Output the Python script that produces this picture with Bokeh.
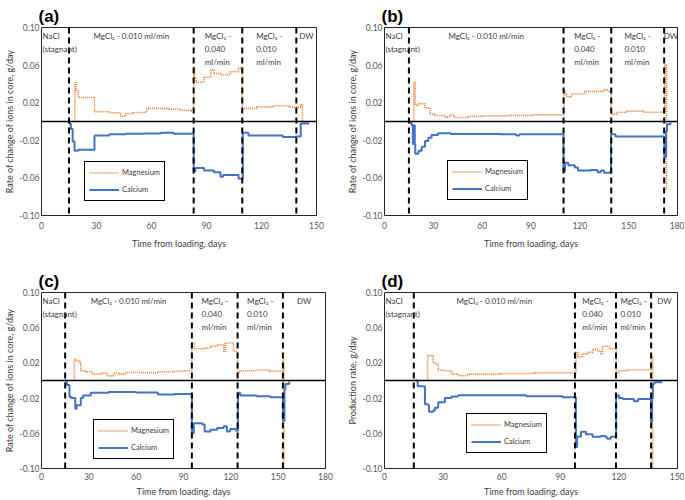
from bokeh.plotting import figure
from bokeh.models import Span, FixedTicker, PrintfTickFormatter, Range1d, ColumnDataSource, LabelSet
from bokeh.layouts import column, row
from bokeh.embed import file_html
from bokeh.resources import INLINE
from bokeh.core.properties import value

# ---------------- data ----------------
y_ticks = [-0.10, -0.06, -0.02, 0.02, 0.06, 0.10]
x_ticks_150 = [0, 30, 60, 90, 120, 150]
x_ticks_180 = [0, 30, 60, 90, 120, 150, 180]
phase_names = ["NaCl\n(stagnant)", "MgCl\u2082 - 0.010 ml/min", "MgCl\u2082 -\n0.040\nml/min",
               "MgCl\u2082 -\n0.010\nml/min", "DW"]

# panel (a)
a_bounds = [15, 83, 109.5, 139]
a_mg_day = [18.2, 18.2, 19, 20, 28.9, 37, 43.2, 45.9, 50, 56.6, 57.5, 69.1, 76, 81.6, 83, 83.5,
            84.3, 88.7, 92.3, 94, 97.6, 103, 107.5, 109.6, 117.3, 126.2, 135.1, 141.4, 142.3]
a_mg = [0, 0.0415, 0.033, 0.0256, 0.0104, 0.0093, 0.0055, 0.0085, 0.0095, 0.0104, 0.014, 0.013,
        0.012, 0.011, 0.058, 0.046, 0.042, 0.047, 0.055, 0.051, 0.0497, 0.053, 0.0568, 0.014,
        0.0156, 0.0167, 0.0153, 0.018, 0]
a_ca_day = [15, 16, 17, 18, 20, 28.9, 37, 46, 56, 65, 72, 83, 84, 88.7, 94, 97.6, 99, 103, 107.5,
            109.8, 112.9, 131.6, 138.7, 141.4, 146]
a_ca = [-0.002, -0.008, -0.0213, -0.031, -0.030, -0.015, -0.0136, -0.013, -0.0127, -0.012, -0.013,
        -0.053, -0.0496, -0.052, -0.054, -0.0589, -0.057, -0.057, -0.061, -0.012, -0.0148, -0.0166,
        -0.016, -0.002, -0.002]

# panel (b)
b_bounds = [15, 110, 139.3, 171.8]
b_mg_day = [18, 18, 18.9, 20.9, 24.9, 27.9, 30.9, 36.9, 39.9, 42.9, 51, 60.9, 76.9, 90.9, 110.3,
            111, 111.9, 114.9, 122.9, 130.9, 134.9, 137, 139.3, 142.9, 148.9, 158.9, 170.9, 172.2,
            173.2, 173.5]
b_mg = [0, 0.0416, 0.0174, 0.019, 0.0143, 0.0078, 0.0064, 0.0047, 0.0065, 0.0043, 0.0054, 0.006,
        0.0065, 0.0071, 0.034, 0.029, 0.026, 0.0295, 0.032, 0.032, 0.034, 0.032, 0.0078, 0.0098,
        0.011, 0.0098, 0.0105, 0.06, -0.072, -0.072]
b_ca_day = [15, 16.6, 17.4, 17.8, 18.6, 18.9, 20.9, 22.9, 24.9, 26.9, 28.9, 32.9, 40.9, 70.9, 80.9,
            82.9, 110, 110.9, 112.9, 116.9, 118.9, 126.9, 130.9, 132.9, 134.9, 139.2, 141.9, 171.9,
            173, 173.6, 175.8]
b_ca = [-0.001, -0.0038, -0.024, -0.004, -0.024, -0.0343, -0.031, -0.0268, -0.0207, -0.0172,
        -0.0144, -0.0126, -0.0133, -0.0136, -0.015, -0.0136, -0.053, -0.044, -0.0465, -0.049,
        -0.052, -0.0516, -0.054, -0.052, -0.0546, -0.0136, -0.016, -0.0378, -0.01, -0.003, -0.001]

# panel (c)
c_bounds = [15, 95.3, 124.3, 153]
c_mg_day = [20.8, 20.8, 21.8, 24.3, 24.9, 28.1, 32.2, 38.5, 41.6, 45.8, 48.9, 53, 63.4, 73.8, 84.2,
            90.5, 95.3, 96.8, 103, 107.1, 111.3, 115.5, 116.5, 118, 121.7, 122.8, 124.3, 125.9,
            136.3, 144.6, 153, 153.6]
c_mg = [0, 0.024, 0.0222, 0.02, 0.0111, 0.01, 0.0073, 0.0085, 0.0053, 0.0085, 0.0073, 0.0091,
        0.009, 0.01, 0.0105, 0.0111, 0.0426, 0.036, 0.0369, 0.0388, 0.0407, 0.033, 0.0426, 0.0426,
        0.033, 0.033, 0.0091, 0.011, 0.0116, 0.0104, 0.024, -0.10]
c_ca_day = [15, 16, 17.7, 18.7, 21.4, 22.2, 24.9, 26.4, 31.2, 42.6, 60, 73.8, 84.2, 95.3, 96.5,
            101.9, 103.4, 107.1, 111.3, 115.5, 117.5, 119.6, 123.4, 124.5, 125.9, 136.3, 145, 153,
            154, 154.6, 157]
c_ca = [0, -0.005, -0.0185, -0.020, -0.032, -0.028, -0.020, -0.017, -0.0139, -0.0132, -0.0135,
        -0.016, -0.0152, -0.060, -0.0485, -0.050, -0.058, -0.056, -0.054, -0.052, -0.058, -0.055,
        -0.057, -0.014, -0.017, -0.018, -0.019, -0.046, -0.01, -0.004, -0.001]

# panel (d)
d_bounds = [15, 97.5, 118.5, 136.5]
d_mg_day = [22.1, 22.1, 24.9, 26.6, 27.5, 30, 34.3, 37.7, 42.8, 59.8, 76.8, 98, 98.9, 101.4, 104,
            106.5, 109.1, 110.8, 111.6, 115, 118.6, 120, 124, 136.6, 137.3]
d_mg = [0, 0.0283, 0.0199, 0.018, 0.0117, 0.011, 0.0072, 0.0055, 0.0072, 0.008, 0.009, 0.032,
        0.0267, 0.0303, 0.032, 0.0355, 0.0335, 0.0303, 0.039, 0.036, 0.009, 0.011, 0.012, 0.027,
        -0.10]
d_ca_day = [15.6, 17, 20.7, 22.4, 22.8, 24.9, 25.8, 27.5, 30.9, 34.3, 37.7, 72.5, 91.2, 98, 98.6,
            99.2, 100.6, 103.1, 106.5, 110.8, 113.3, 114.1, 115.8, 118.6, 120, 122, 127.7, 129.8,
            136.4, 136.9, 137.4, 138.3, 142.2]
d_ca = [0, -0.0066, -0.027, -0.0282, -0.0355, -0.034, -0.031, -0.0248, -0.020, -0.0183, -0.0168,
        -0.018, -0.019, -0.0757, -0.0636, -0.0636, -0.0582, -0.061, -0.064, -0.063, -0.0648,
        -0.0663, -0.064, -0.017, -0.020, -0.021, -0.0236, -0.021, -0.047, -0.02, -0.0036, -0.002,
        -0.002]

# ---------------- styling ----------------
MG_COLOR = "#ED7D31"
CA_COLOR = "#4472C4"
TXT = "#404040"
FONT = "Lato"


def panel(letter, xmax, xticks, bounds, mg_x, mg_y, ca_x, ca_y, ylabel, legend_loc,
          width, height, b_right, b_top, b_bottom, x_std):
    p = figure(width=width, height=height, x_range=Range1d(0, xmax), y_range=Range1d(-0.10, 0.10),
               output_backend="svg", toolbar_location=None, title=letter,
               width_policy="fixed", height_policy="fixed",
               min_border_left=5, min_border_right=b_right,
               min_border_top=b_top, min_border_bottom=b_bottom)
    p.title.text_font = "Liberation Sans"
    p.title.text_font_size = "17px"
    p.title.text_font_style = "bold"
    p.title.text_color = "black"
    p.title.standoff = 4
    p.title.offset = -3

    p.xgrid.visible = False
    p.ygrid.visible = False
    p.outline_line_color = "#262626"
    p.outline_line_width = 1

    for ax in (p.xaxis[0], p.yaxis[0]):
        ax.axis_line_color = None
        ax.major_tick_line_color = None
        ax.minor_tick_line_color = None
        ax.major_tick_out = 0
        ax.major_tick_in = 0
        ax.minor_tick_out = 0
        ax.minor_tick_in = 0
        ax.major_label_text_font = FONT
        ax.major_label_text_font_size = "8.5px"
        ax.major_label_text_color = "#595959"
        ax.axis_label_text_font = FONT
        ax.axis_label_text_font_size = "9px"
        ax.axis_label_text_font_style = "normal"
        ax.axis_label_text_color = TXT
    p.xaxis.major_label_standoff = x_std[0]
    p.xaxis.axis_label_standoff = x_std[1]
    p.yaxis.major_label_standoff = 2
    p.yaxis.axis_label_standoff = 2

    p.xaxis.ticker = FixedTicker(ticks=xticks)
    p.yaxis.ticker = FixedTicker(ticks=y_ticks)
    p.yaxis.formatter = PrintfTickFormatter(format="%.2f")
    p.xaxis.axis_label = "Time from loading, days"
    p.yaxis.axis_label = ylabel

    # phase boundaries
    for b in bounds:
        p.add_layout(Span(location=b, dimension="height", line_color="black",
                          line_width=2, line_dash="6 4"))

    # phase labels: first one anchored at the left edge, the rest centred between boundaries
    edges = [0] + list(bounds) + [xmax]
    centers = [(edges[i] + edges[i + 1]) / 2 for i in range(len(edges) - 1)]
    src_first = ColumnDataSource(dict(x=[edges[0]], y=[0.10], t=phase_names[:1]))
    src_rest = ColumnDataSource(dict(x=centers[1:], y=[0.10] * (len(centers) - 1),
                                     t=phase_names[1:]))
    p.add_layout(LabelSet(x="x", y="y", text="t", source=src_first, text_align="left",
                          text_baseline="top", x_offset=1, y_offset=-3, text_font=value(FONT),
                          text_font_size="8px", text_color=TXT, text_line_height=1.3))
    p.add_layout(LabelSet(x="x", y="y", text="t", source=src_rest, text_align="center",
                          text_baseline="top", y_offset=-3, text_font=value(FONT),
                          text_font_size="8px", text_color=TXT, text_line_height=1.3))

    p.step(mg_x, mg_y, mode="after", line_color=MG_COLOR, line_width=1.6, line_dash="1 1",
           legend_label="Magnesium")
    p.step(ca_x, ca_y, mode="after", line_color=CA_COLOR, line_width=2,
           legend_label="Calcium")

    p.add_layout(Span(location=0, dimension="width", line_color="black", line_width=1.5))

    lg = p.legend[0]
    lg.location = legend_loc
    lg.border_line_color = "black"
    lg.border_line_width = 1
    lg.border_line_alpha = 1
    lg.background_fill_color = "white"
    lg.background_fill_alpha = 1
    lg.label_text_font = FONT
    lg.label_text_font_size = "7.5px"
    lg.label_text_color = TXT
    lg.glyph_width = 30
    lg.glyph_height = 13
    lg.label_height = 13
    lg.spacing = 4
    lg.padding = 4
    lg.margin = 0
    lg.label_standoff = 3
    return p


ylab = "Rate of change of ions in core, g/day"
pa = panel("(a)", 150, x_ticks_150, a_bounds, a_mg_day, a_mg, a_ca_day, a_ca, ylab, (43, 14),
           343, 262, 27, 27, 46, (6, 6))
pb = panel("(b)", 180, x_ticks_180, b_bounds, b_mg_day, b_mg, b_ca_day, b_ca, ylab, (63, 15),
           341, 262, 7, 22, 47, (6, 6))
pc = panel("(c)", 180, x_ticks_180, c_bounds, c_mg_day, c_mg, c_ca_day, c_ca, ylab, (52, 9),
           343, 237, 18, 30, 29, (4, 3))
pd = panel("(d)", 150, x_ticks_150, d_bounds, d_mg_day, d_mg, d_ca_day, d_ca,
           "Production rate, g/day", (82, 15), 341, 237, 7, 25, 29, (4, 3))

layout = column(row(pa, pb), row(pc, pd))
open("out.html", "w").write(file_html(layout, INLINE))
